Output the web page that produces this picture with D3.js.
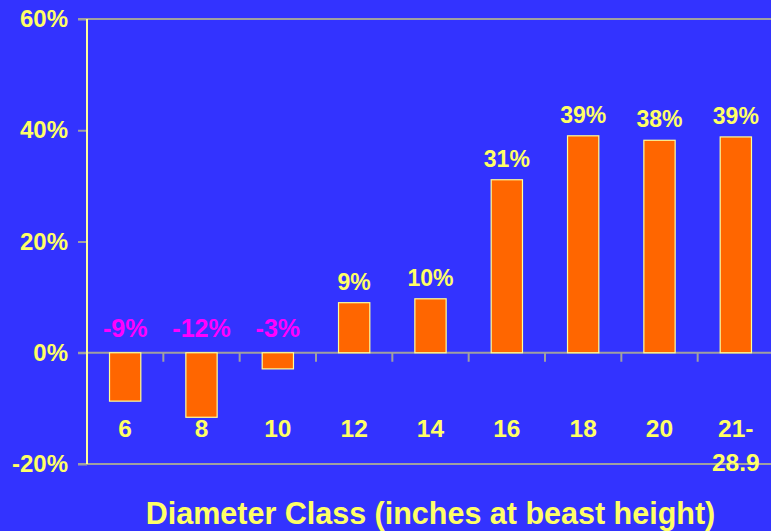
<!DOCTYPE html>
<html>
<head>
<meta charset="utf-8">
<script src="https://cdn.jsdelivr.net/npm/d3@7"></script>
<style>
  html, body { margin: 0; padding: 0; background: #3333FF; }
  svg { display: block; }
  text { font-family: "Liberation Sans", Arial, sans-serif; font-weight: bold; }
</style>
</head>
<body>
<svg id="svg" width="771" height="531"></svg>
<script>
// data
const categories = ['6', '8', '10', '12', '14', '16', '18', '20', '21-|28.9'];
const values = [-8.7, -11.6, -2.9, 9.0, 9.7, 31.1, 39.0, 38.2, 38.8];
const valueLabels = ['-9%', '-12%', '-3%', '9%', '10%', '31%', '39%', '38%', '39%'];
const yTicks = [-20, 0, 20, 40, 60];

const yellow = '#FFFF66';
const grey = '#A0A0A0';

const svg = d3.select('#svg');
svg.append('rect').attr('width', 771).attr('height', 531).attr('fill', '#3333FF');

const x = d3.scaleBand().domain(categories).range([87, 774]);
const y = d3.scaleLinear().domain([-20, 60]).range([464, 19]);
const barW = x.bandwidth() * 0.41;

// full-width lines at top, zero and bottom
[60, 0, -20].forEach(v => {
    svg.append('line')
        .attr('x1', 78).attr('x2', 771)
        .attr('y1', y(v)).attr('y2', y(v))
        .attr('stroke', grey).attr('stroke-width', 2);
});

// y axis ticks + labels
const yAxis = svg.append('g').attr('transform', 'translate(87,0)')
    .call(d3.axisLeft(y).tickValues(yTicks).tickSize(9).tickFormat(d => d + '%'));
yAxis.select('.domain').remove();
yAxis.selectAll('line').attr('stroke', grey).attr('stroke-width', 2);
yAxis.selectAll('text')
    .attr('x', -19).attr('fill', yellow)
    .style('font-size', '24px');

// category boundary ticks under the zero line
categories.slice(1).forEach(c => {
    svg.append('line')
        .attr('x1', x(c)).attr('x2', x(c))
        .attr('y1', y(0)).attr('y2', y(0) + 9)
        .attr('stroke', grey).attr('stroke-width', 2);
});

// bars
svg.append('g').selectAll('rect').data(values).join('rect')
    .attr('x', (d, i) => x(categories[i]) + x.bandwidth() / 2 - barW / 2)
    .attr('y', d => y(Math.max(0, d)))
    .attr('width', barW)
    .attr('height', d => Math.abs(y(d) - y(0)))
    .attr('fill', '#FF6600')
    .attr('stroke', '#FFFF99').attr('stroke-width', 1.2);

// vertical axis line
svg.append('line')
    .attr('x1', 87).attr('x2', 87).attr('y1', 19).attr('y2', 464)
    .attr('stroke', '#FFFF99').attr('stroke-width', 2);

// value labels
svg.append('g').selectAll('text').data(values).join('text')
    .attr('x', (d, i) => x(categories[i]) + x.bandwidth() / 2)
    .attr('y', d => d < 0 ? y(0) - 16 : y(d) - 13)
    .attr('text-anchor', 'middle')
    .attr('fill', d => d < 0 ? '#FF00FF' : yellow)
    .style('font-size', d => d < 0 ? '25px' : '23px')
    .text((d, i) => valueLabels[i]);

// category labels
const catG = svg.append('g');
categories.forEach(c => {
    const lines = c.split('|');
    lines.forEach((t, j) => {
        catG.append('text')
            .attr('x', x(c) + x.bandwidth() / 2)
            .attr('y', 437 + j * 34)
            .attr('text-anchor', 'middle')
            .attr('fill', yellow)
            .style('font-size', '24.5px')
            .text(t);
    });
});

// axis title
svg.append('text')
    .attr('x', 430.5).attr('y', 524)
    .attr('text-anchor', 'middle')
    .attr('fill', yellow)
    .style('font-size', '30.5px')
    .text('Diameter Class (inches at beast height)');
</script>
</body>
</html>
